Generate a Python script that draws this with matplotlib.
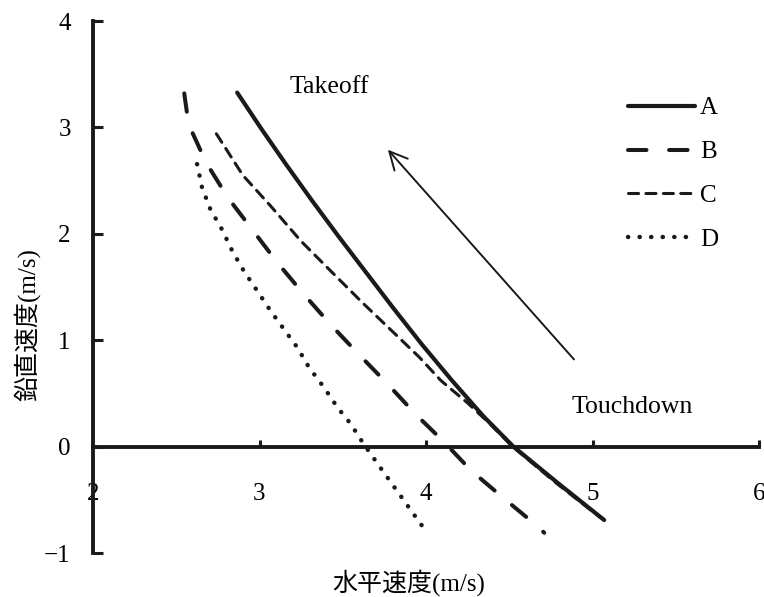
import numpy as np
import matplotlib
matplotlib.use("Agg")
import matplotlib.pyplot as plt

plt.rcParams['font.family'] = ['Liberation Serif', 'Noto Sans CJK JP']

# courbes (vitesse horizontale, vitesse verticale)
xA = [2.866, 3.010, 3.160, 3.315, 3.475, 3.640, 3.805, 3.975, 4.155, 4.345, 4.525, 4.79, 5.07]
yA = [3.327, 2.989, 2.651, 2.313, 1.975, 1.637, 1.299, 0.961, 0.623, 0.285, 0.0, -0.34, -0.69]
xB = [2.548, 2.574, 2.679, 2.81, 2.956, 3.107, 3.267, 3.428, 3.598, 3.769, 3.94, 4.104, 4.271, 4.47, 4.663, 4.71]
yB = [3.32, 3.03, 2.67, 2.34, 2.04, 1.73, 1.43, 1.145, 0.864, 0.589, 0.30, 0.05, -0.225, -0.49, -0.74, -0.81]
xC = [2.741, 2.90, 3.066, 3.25, 3.428, 3.62, 3.80, 3.96, 4.09, 4.25, 4.38, 4.52, 4.78, 5.05]
yC = [2.94, 2.55, 2.263, 1.93, 1.65, 1.35, 1.08, 0.84, 0.62, 0.41, 0.22, 0.0, -0.34, -0.67]
xD = [2.625, 2.655, 2.705, 2.775, 2.836, 2.906, 2.986, 3.066, 3.146, 3.227, 3.297, 3.387, 3.468,
      3.548, 3.619, 3.747, 3.988, 4.0]
yD = [2.655, 2.435, 2.23, 2.04, 1.84, 1.65, 1.465, 1.277, 1.105, 0.932, 0.745, 0.557, 0.369,
      0.213, 0.04, -0.244, -0.77, -0.79]
labels = ["A", "B", "C", "D"]
xticks = [2, 3, 4, 5, 6]
yticks = [-1, 0, 1, 2, 3, 4]

fig = plt.figure(figsize=(7.64, 5.97), dpi=100)
ax = fig.add_axes([93/764, 44/597, 666/764, 532/597])

ax.plot(xA, yA, color="#1a1a1a", lw=3.0, solid_capstyle="round", solid_joinstyle="round", label=labels[0])
ax.plot(xB, yB, color="#1a1a1a", lw=2.9, dashes=(4.6, 5.6), dash_capstyle="round", label=labels[1])
ax.plot(xC, yC, color="#1a1a1a", lw=2.2, dashes=(3.3, 2.4), dash_capstyle="round", label=labels[2])
ax.plot(xD, yD, color="#1a1a1a", lw=3.2, dashes=(0.05, 2.55), dash_capstyle="round", label=labels[3])

ax.set_xlim(2, 6)
ax.set_ylim(-1, 4)
ax.spines['top'].set_visible(False)
ax.spines['right'].set_visible(False)
ax.spines['left'].set_position(('data', 2))
ax.spines['bottom'].set_position(('data', 0))
for s in ['left', 'bottom']:
    ax.spines[s].set_linewidth(2.8)
    ax.spines[s].set_color("#1a1a1a")
    ax.spines[s].set_capstyle("projecting")

ax.set_xticks(xticks)
ax.set_yticks(yticks)
ax.tick_params(axis='y', direction='in', length=7, width=2.2, pad=16, labelsize=18, color="#1a1a1a")
ax.tick_params(axis='x', direction='in', length=5, width=2.2, pad=26, labelsize=18, color="#1a1a1a")
ax.xaxis.get_major_ticks()[0].tick1line.set_visible(False)

ax.annotate("", xy=(3.76, 2.81), xytext=(4.90, 0.80),
            arrowprops=dict(arrowstyle="->", lw=1.4, color="#1a1a1a", mutation_scale=32))
ax.text(3.18, 3.38, "Takeoff", fontsize=18.5, va="center", ha="left")
ax.text(4.875, 0.375, "Touchdown", fontsize=18.5, va="center", ha="left")

leg = ax.legend(loc="upper left", bbox_to_anchor=(628/764, 500/597), bbox_transform=fig.transFigure,
                frameon=False, fontsize=18, handlelength=2.68, handletextpad=0.2,
                labelspacing=0.85, borderpad=0, borderaxespad=0)

fig.text(409/764, 1 - 583/597, "水平速度(m/s)", fontsize=18, ha="center", va="center")
fig.text(27/764, 1 - 325/597, "鉛直速度(m/s)", fontsize=18, ha="center", va="center", rotation=90)

fig.savefig("out.png", dpi=100)
